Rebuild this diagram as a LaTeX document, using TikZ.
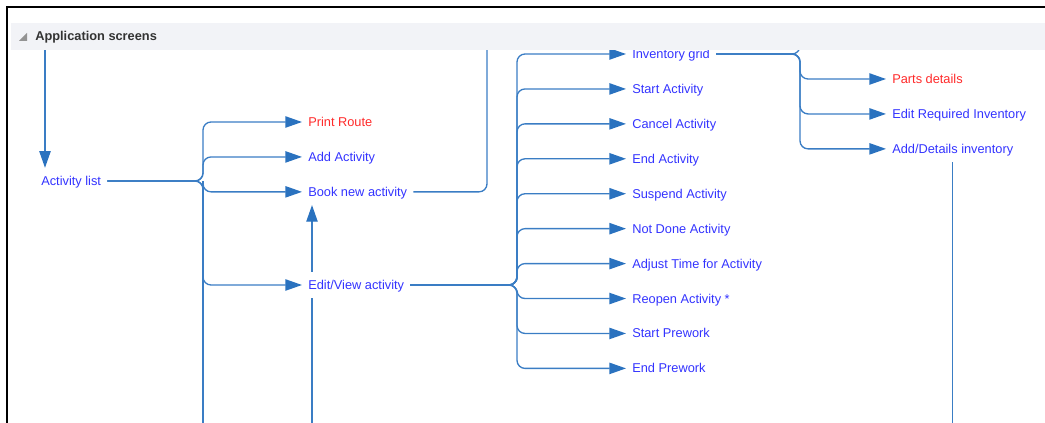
\documentclass[tikz,border=0pt]{standalone}
\usepackage{fontspec}
\setmainfont{Liberation Sans}
\usetikzlibrary{arrows.meta,positioning}
\definecolor{Link}{HTML}{3A7DC4}
\definecolor{Tip}{HTML}{2A72BF}
\definecolor{Screen}{HTML}{3333FF}
\definecolor{Todo}{HTML}{FF2A2A}
\definecolor{Band}{HTML}{F2F3F7}
\definecolor{Title}{HTML}{333333}

\begin{document}
\begin{tikzpicture}[x=0.75pt, y=-0.75pt, node distance=6.4pt,
    scr/.style={text=Screen, font=\fontsize{9.6}{11}\selectfont, text height=7.9pt, text depth=1.1pt, inner xsep=4.5pt, inner ysep=5.2pt, anchor=west},
    scrred/.style={scr, text=Todo},
    link/.style={draw=Link, line width=1pt, rounded corners=6pt},
    flow/.style={link, -{Triangle[length=12.5pt, width=8.5pt, color=Tip]}}]
    \useasboundingbox (0,0) rectangle (1045,423);

    % left column
    \node[scr] (actlist) at (35,181) {Activity list};
    \node[scrred] (print) at (302,122) {Print Route};
    \node[scr, below=of print.south west, anchor=north west] (addact) {Add Activity};
    \node[scr, below=of addact.south west, anchor=north west] (book) {Book new activity};
    \node[scr] (editview) at (302,285) {Edit/View activity};

    % activity screens
    \node[scr] (invgrid) at (626,54) {Inventory grid};
    \node[scr, below=of invgrid.south west, anchor=north west] (startact) {Start Activity};
    \node[scr, below=of startact.south west, anchor=north west] (cancelact) {Cancel Activity};
    \node[scr, below=of cancelact.south west, anchor=north west] (endact) {End Activity};
    \node[scr, below=of endact.south west, anchor=north west] (suspact) {Suspend Activity};
    \node[scr, below=of suspact.south west, anchor=north west] (notdone) {Not Done Activity};
    \node[scr, below=of notdone.south west, anchor=north west] (adjtime) {Adjust Time for Activity};
    \node[scr, below=of adjtime.south west, anchor=north west] (reopen) {Reopen Activity *};
    \node[scr, below=of reopen.south west, anchor=north west] (startpre) {Start Prework};
    \node[scr, below=of startpre.south west, anchor=north west] (endpre) {End Prework};

    % inventory screens
    \node[scrred] (parts) at (886,79) {Parts details};
    \node[scr, below=of parts.south west, anchor=north west] (editinv) {Edit Required Inventory};
    \node[scr, below=of editinv.south west, anchor=north west] (adddet) {Add/Details inventory};

    \coordinate (hdr) at (45,45);
    \coordinate (fork1) at (203,181);
    \coordinate (botact) at (203,423);
    \coordinate (bookup) at (487,40);
    \coordinate (botbook) at (312,423);
    \coordinate (fork2) at (517,285);
    \coordinate (fork3) at (800,54);
    \coordinate (invup) at (800,38);

    \draw[flow] (hdr) -- (hdr |- actlist.north);

    \draw[flow] (actlist.east) -- (fork1) |- (print.west);
    \draw[flow] (actlist.east) -- (fork1) |- (addact.west);
    \draw[flow] (actlist.east) -- (fork1) |- (book.west);
    \draw[flow] (actlist.east) -- (fork1) |- (editview.west);
    \draw[link] (fork1) -- (botact);

    \draw[link] (book.east) -| (bookup);
    \draw[link] (botbook) -- (botbook |- editview.south);
    \draw[flow] (botbook |- editview.north) -- (botbook |- book.south);

    \draw[flow] (editview.east) -- (fork2) |- (invgrid.west);
    \draw[flow] (editview.east) -- (fork2) |- (startact.west);
    \draw[flow] (editview.east) -- (fork2) |- (cancelact.west);
    \draw[flow] (editview.east) -- (fork2) |- (endact.west);
    \draw[flow] (editview.east) -- (fork2) |- (suspact.west);
    \draw[flow] (editview.east) -- (fork2) |- (notdone.west);
    \draw[flow] (editview.east) -- (fork2) |- (adjtime.west);
    \draw[flow] (editview.east) -- (fork2) |- (reopen.west);
    \draw[flow] (editview.east) -- (fork2) |- (startpre.west);
    \draw[flow] (editview.east) -- (fork2) |- (endpre.west);

    \draw[link] (invgrid.east) -- (fork3) -- (invup);
    \draw[flow] (invgrid.east) -- (fork3) |- (parts.west);
    \draw[flow] (invgrid.east) -- (fork3) |- (editinv.west);
    \draw[flow] (invgrid.east) -- (fork3) |- (adddet.west);
    \draw[link] (adddet.south) -- (adddet.south |- botact);

    % header band on top
    \fill[Band] (11,23) rectangle (1045,50);
    \fill[gray!85] (19,41) -- (27,41) -- (27,33) -- cycle;
    \node[anchor=west, inner sep=0pt, text=Title, font=\fontsize{9.6}{11}\selectfont\bfseries] (title) at (35,37) {Application screens};
    \draw[line width=1.5pt] (7,423) -- (7,7) -- (1045,7);
  \end{tikzpicture}
\end{document}
